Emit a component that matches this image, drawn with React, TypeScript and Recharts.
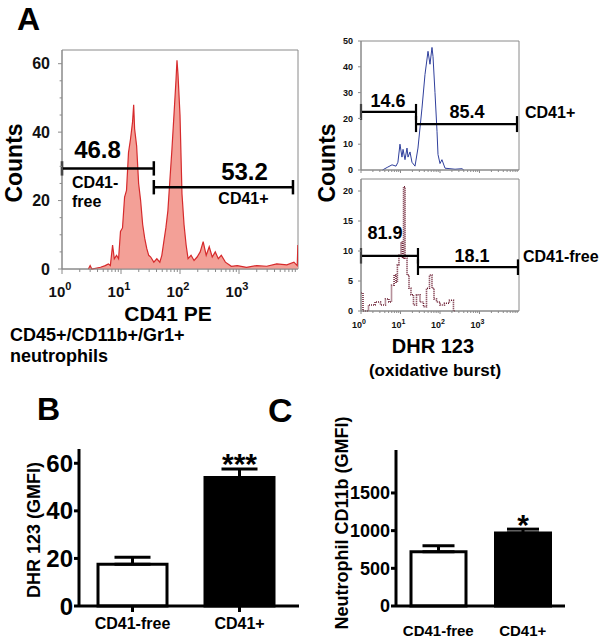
import React from "react";
import {
  Area,
  Bar,
  BarChart,
  Cell,
  ComposedChart,
  ErrorBar,
  LabelList,
  Line,
  LineChart,
  ReferenceArea,
  ReferenceDot,
  ReferenceLine,
  XAxis,
  YAxis,
} from "recharts";

const FONT = "'Liberation Sans', Arial, Helvetica, sans-serif";
const FRAME = "#8a8a8a";

// Panel A left: CD41 PE histogram of CD45+/CD11b+/Gr1+ neutrophils
const cd41Channel = [
  2.8, 3, 3.2, 4.5, 5.4, 6.1, 6.6, 7.2, 7.7, 8.4, 9.1, 9.8, 10.6, 11.5, 12.4,
  13.4, 14.5, 15.7, 16.4, 17, 18.4, 19.9, 21.5, 23.3, 25.2, 27.3, 29.5, 31.9,
  36, 40.5, 45.5, 49.2, 53.2, 57.6, 62.3, 67.4, 73, 79, 85.4, 88.9, 92.4, 100,
  108, 117, 127, 137, 154, 173, 195, 220, 247, 278, 313, 352, 396, 446, 501,
  588, 741, 935, 1340, 1990, 2950, 4370, 6470, 8530, 9700, 9950,
];
const cd41Counts = [
  0, 1, 0, 0.5, 1, 1.5, 1, 7, 3, 4, 3, 11, 12, 21, 23, 34, 38, 43, 48, 41, 36,
  25, 20, 13, 9, 6, 4, 3.5, 2, 3, 2, 4, 8, 12, 17, 26, 35, 45, 55, 61, 57, 45,
  22, 13, 7, 3, 4, 2.5, 3.5, 5, 8, 4, 6.5, 3.5, 5, 3, 4, 2, 0.8, 1, 0.5, 1, 0.8,
  1.5, 1.2, 2, 1, 7,
];

// Panel A right: DHR 123 histograms, CD41+ (top) and CD41-free (bottom)
const dhrPosChannel = [
  3.5, 4.6, 6.1, 7.7, 8.6, 9.7, 10.9, 11.6, 13, 14.6, 15.5, 17.4, 19.5, 23.3,
  27.7, 35, 41.7, 49.7, 55.8, 62.7, 66.5, 74.7, 84, 89, 100, 112, 134, 179, 240,
  360, 400,
];
const dhrPosCounts = [
  0, 1, 2, 1.5, 3, 10, 5, 8, 4, 8.5, 5, 7, 3, 1.5, 8.5, 24, 37, 46, 41, 47.5,
  44, 30, 15, 6, 2.5, 4, 0.7, 0.5, 0.3, 0.5, 0,
];
const dhrFreeChannel = [
  1, 1.26, 1.9, 2.7, 3.6, 4.8, 5.4, 6.5, 7.3, 8.1, 8.6, 9.7, 10.9, 11.6, 12.3,
  13.8, 15.5, 17.4, 19.5, 23.3, 27.7, 35, 41.7, 49.7, 59, 66.5, 74.7, 89, 112,
  150, 200, 240,
];
const dhrFreeCounts = [
  3, 0, 1, 1.5, 1, 2, 1.5, 4.3, 6, 4.8, 7.7, 9.3, 11.5, 8.8, 20.7, 8.8, 6, 3.8,
  2.7, 1, 2.7, 1.5, 0.7, 3.8, 6, 3.8, 2, 1.5, 1, 1.3, 1.8, 0,
];

const logTicks = [
  1, 2, 3, 4, 5, 6, 7, 8, 9, 10, 20, 30, 40, 50, 60, 70, 80, 90, 100, 200, 300,
  400, 500, 600, 700, 800, 900, 1000, 2000, 3000, 4000, 5000, 6000, 7000, 8000,
  9000,
];
const decades = [1, 10, 100, 1000];
const decadeExp = ["0", "1", "2", "3"];

// gates: [from, to, level]
const cd41Gates = [
  [1, 36, 29.4],
  [36, 8220, 23.9],
];
const dhrPosGates = [
  [1, 24.7, 22.5],
  [24.7, 8900, 17.8],
];
const dhrFreeGates = [
  [1, 27.7, 9.2],
  [27.7, 9400, 7.3],
];

// in-plot annotations: [channel, count, text, size, anchor]
const cd41Notes: [number, number, string, number, string][] = [
  [4, 32.4, "46.8", 24, "middle"],
  [1.48, 23.6, "CD41-", 16, "start"],
  [1.48, 18.1, "free", 16, "start"],
  [1240, 25.9, "53.2", 24, "middle"],
  [1190, 19, "CD41+", 16, "middle"],
];
const dhrPosNotes: [number, number, string, number, string][] = [
  [4.8, 24.4, "14.6", 18, "middle"],
  [480, 20.2, "85.4", 18, "middle"],
];
const dhrFreeNotes: [number, number, string, number, string][] = [
  [4.05, 12, "81.9", 18, "middle"],
  [645, 8.2, "18.1", 18, "middle"],
];

// Panels B and C
const groups = ["CD41-free", "CD41+"];
const dhrGmfi = [17.5, 54];
const dhrSem = [3, 3.6];
const dhrSig = ["", "***"];
const cd11bGmfi = [720, 970];
const cd11bSem = [80, 50];
const cd11bSig = ["", "*"];

const cd41Data = cd41Channel.map((ch, i) => ({ ch, n: cd41Counts[i] }));
const dhrPosData = dhrPosChannel.map((ch, i) => ({ ch, n: dhrPosCounts[i] }));
const dhrFreeData = dhrFreeChannel.map((ch, i) => ({ ch, n: dhrFreeCounts[i] }));
const dhrBars = groups.map((g, i) => ({
  group: g,
  v: dhrGmfi[i],
  err: [0, dhrSem[i]],
  sig: dhrSig[i],
}));
const cd11bBars = groups.map((g, i) => ({
  group: g,
  v: cd11bGmfi[i],
  err: [0, cd11bSem[i]],
  sig: cd11bSig[i],
}));

function LogXTick(props: any) {
  const { x, y, payload, fontSize, supSize, gap, showLabel, majorLen, minorLen } =
    props;
  const v = payload.value;
  const k = decades.indexOf(v);
  const major = k >= 0;
  return (
    <g>
      <line
        x1={x}
        x2={x}
        y1={y}
        y2={y + (major ? majorLen : minorLen)}
        stroke={FRAME}
      />
      {major && showLabel && (
        <text
          x={x - 2}
          y={y + gap}
          textAnchor="middle"
          fontSize={fontSize}
          fontWeight="bold"
          fontFamily={FONT}
          fill="#111"
        >
          10
          <tspan dy={-fontSize * 0.45} fontSize={supSize}>
            {decadeExp[k]}
          </tspan>
        </text>
      )}
    </g>
  );
}

function LinYTick(props: any) {
  const { x, y, payload, fontSize, gap, labels, len } = props;
  const v = payload.value;
  const lab = labels.includes(v);
  return (
    <g>
      <line x1={x - (lab ? len : len * 0.6)} x2={x} y1={y} y2={y} stroke={FRAME} />
      {lab && (
        <text
          x={x - gap}
          y={y}
          dy="0.36em"
          textAnchor="end"
          fontSize={fontSize}
          fontWeight="bold"
          fontFamily={FONT}
          fill="#111"
        >
          {v}
        </text>
      )}
    </g>
  );
}

function PlotText(props: any) {
  const { viewBox, text, size, anchor } = props;
  if (!viewBox) return null;
  const x = viewBox.x + (viewBox.width || 0) / 2;
  const y = viewBox.y + (viewBox.height || 0) / 2;
  return (
    <text
      x={x}
      y={y}
      textAnchor={anchor}
      fontSize={size}
      fontWeight="bold"
      fontFamily={FONT}
      fill="#000"
    >
      {text}
    </text>
  );
}

function gateLines(gates: number[][], cap: number, w: number, id: string) {
  const out: React.ReactNode[] = [];
  gates.forEach(([from, to, level], i) => {
    const seg = (a: any, b: any, k: string) => (
      <ReferenceLine
        key={`${id}-${i}-${k}`}
        segment={[a, b]}
        stroke="#000"
        strokeWidth={w}
        ifOverflow="visible"
      />
    );
    out.push(seg({ x: from, y: level }, { x: to, y: level }, "h"));
    out.push(seg({ x: from, y: level - cap }, { x: from, y: level + cap }, "l"));
    out.push(seg({ x: to, y: level - cap }, { x: to, y: level + cap }, "r"));
  });
  return out;
}

function notes(list: [number, number, string, number, string][], id: string) {
  return list.map(([x, y, text, size, anchor], i) => (
    <ReferenceDot
      key={`${id}-${i}`}
      x={x}
      y={y}
      r={0}
      fill="none"
      stroke="none"
      ifOverflow="visible"
      label={<PlotText text={text} size={size} anchor={anchor} />}
    />
  ));
}

const boldTxt = { fontWeight: "bold", fontFamily: FONT, fill: "#000" } as const;

export default function App() {
  return (
    <div
      style={{
        position: "absolute",
        left: 0,
        top: 0,
        width: 602,
        height: 642,
        background: "#fff",
        fontFamily: FONT,
      }}
    >
      {/* A left: CD41 PE */}
      <div style={{ position: "absolute", left: 0, top: 0 }}>
        <ComposedChart
          width={300}
          height={300}
          data={cd41Data}
          margin={{ top: 50, right: 2, bottom: 0, left: 0 }}
        >
          <XAxis
            dataKey="ch"
            type="number"
            scale="log"
            domain={[1, 10000]}
            allowDataOverflow
            ticks={logTicks}
            interval={0}
            height={31}
            tickSize={0}
            tickMargin={0}
            axisLine={{ stroke: FRAME }}
            tick={
              <LogXTick
                fontSize={15}
                supSize={11}
                gap={28}
                showLabel
                majorLen={5}
                minorLen={3}
              />
            }
          />
          <YAxis
            type="number"
            domain={[0, 64]}
            ticks={[0, 5, 10, 15, 20, 25, 30, 35, 40, 45, 50, 55, 60]}
            interval={0}
            width={62}
            tickSize={0}
            tickMargin={0}
            axisLine={{ stroke: FRAME }}
            tick={<LinYTick labels={[0, 20, 40, 60]} fontSize={16} gap={12} len={4} />}
          />
          <ReferenceArea
            x1={1}
            x2={10000}
            y1={0}
            y2={64}
            fill="none"
            stroke={FRAME}
            ifOverflow="visible"
          />
          <Area
            dataKey="n"
            type="linear"
            stroke="#d62a2c"
            strokeWidth={1.2}
            fill="#f3a097"
            fillOpacity={1}
            isAnimationActive={false}
          />
          {gateLines(cd41Gates, 2.1, 2.5, "g1")}
          {notes(cd41Notes, "n1")}
        </ComposedChart>
      </div>

      {/* A right top: DHR 123, CD41+ */}
      <div style={{ position: "absolute", left: 300, top: 0 }}>
        <LineChart
          width={302}
          height={180}
          data={dhrPosData}
          margin={{ top: 41, right: 83, bottom: 0, left: 0 }}
        >
          <XAxis
            dataKey="ch"
            type="number"
            scale="log"
            domain={[1, 10000]}
            allowDataOverflow
            ticks={logTicks}
            interval={0}
            height={10}
            tickSize={0}
            tickMargin={0}
            axisLine={{ stroke: FRAME }}
            tick={
              <LogXTick
                fontSize={9}
                supSize={7}
                gap={17}
                showLabel={false}
                majorLen={3}
                minorLen={2}
              />
            }
          />
          <YAxis
            type="number"
            domain={[0, 50]}
            ticks={[0, 10, 20, 30, 40, 50]}
            interval={0}
            width={61}
            tickSize={0}
            tickMargin={0}
            axisLine={{ stroke: FRAME }}
            tick={
              <LinYTick labels={[0, 10, 20, 30, 40, 50]} fontSize={9} gap={8} len={3} />
            }
          />
          <ReferenceArea
            x1={1}
            x2={10000}
            y1={0}
            y2={50}
            fill="none"
            stroke={FRAME}
            ifOverflow="visible"
          />
          <Line
            dataKey="n"
            type="linear"
            stroke="#2f3f9c"
            strokeWidth={1}
            dot={false}
            isAnimationActive={false}
          />
          {gateLines(dhrPosGates, 3.1, 2.2, "g2")}
          {notes(dhrPosNotes, "n2")}
        </LineChart>
      </div>

      {/* A right bottom: DHR 123, CD41-free */}
      <div style={{ position: "absolute", left: 300, top: 170 }}>
        <LineChart
          width={302}
          height={175}
          data={dhrFreeData}
          margin={{ top: 9, right: 83, bottom: 0, left: 0 }}
        >
          <XAxis
            dataKey="ch"
            type="number"
            scale="log"
            domain={[1, 10000]}
            allowDataOverflow
            ticks={logTicks}
            interval={0}
            height={34}
            tickSize={0}
            tickMargin={0}
            axisLine={{ stroke: FRAME }}
            tick={
              <LogXTick
                fontSize={9}
                supSize={7}
                gap={17}
                showLabel
                majorLen={3}
                minorLen={2}
              />
            }
          />
          <YAxis
            type="number"
            domain={[0, 22]}
            ticks={[0, 5, 10, 15, 20]}
            interval={0}
            width={61}
            tickSize={0}
            tickMargin={0}
            axisLine={{ stroke: FRAME }}
            tick={<LinYTick labels={[0, 5, 10, 15, 20]} fontSize={9} gap={8} len={3} />}
          />
          <ReferenceArea
            x1={1}
            x2={10000}
            y1={0}
            y2={22}
            fill="none"
            stroke={FRAME}
            ifOverflow="visible"
          />
          <Line
            dataKey="n"
            type="step"
            stroke="#6e2236"
            strokeWidth={1.6}
            strokeDasharray="1 1"
            dot={false}
            isAnimationActive={false}
          />
          {gateLines(dhrFreeGates, 1.3, 2.2, "g3")}
          {notes(dhrFreeNotes, "n3")}
        </LineChart>
      </div>

      {/* B: DHR 123 GMFI */}
      <div style={{ position: "absolute", left: 0, top: 380 }}>
        <BarChart
          width={300}
          height={262}
          data={dhrBars}
          margin={{ top: 69, right: 1, bottom: 0, left: 0 }}
        >
          <XAxis
            dataKey="group"
            height={36}
            padding={{ left: 0, right: 6 }}
            interval={0}
            axisLine={{ stroke: "#000", strokeWidth: 3 }}
            tickLine={{ stroke: "#000", strokeWidth: 3 }}
            tickSize={6}
            tickMargin={6}
            tick={{ ...boldTxt, fontSize: 16 }}
          />
          <YAxis
            domain={[0, 66]}
            ticks={[0, 20, 40, 60]}
            interval={0}
            width={79}
            axisLine={{ stroke: "#000", strokeWidth: 3 }}
            tickLine={{ stroke: "#000", strokeWidth: 3 }}
            tickSize={5}
            tickMargin={1}
            tick={{ ...boldTxt, fontSize: 24 }}
          />
          <Bar
            dataKey="v"
            barSize={69}
            stroke="#000"
            strokeWidth={3}
            isAnimationActive={false}
          >
            {dhrBars.map((d, i) => (
              <Cell key={d.group} fill={i === 0 ? "#fff" : "#000"} />
            ))}
            <ErrorBar
              dataKey="err"
              direction="y"
              width={18}
              stroke="#000"
              strokeWidth={3}
            />
            <LabelList
              dataKey="sig"
              position="top"
              offset={4}
              fontSize={30}
              fontWeight="bold"
              fontFamily={FONT}
              fill="#000"
            />
          </Bar>
        </BarChart>
      </div>

      {/* C: neutrophil CD11b GMFI */}
      <div style={{ position: "absolute", left: 300, top: 380 }}>
        <BarChart
          width={302}
          height={262}
          data={cd11bBars}
          margin={{ top: 70, right: 37, bottom: 0, left: 0 }}
        >
          <XAxis
            dataKey="group"
            height={36}
            interval={0}
            axisLine={{ stroke: "#000", strokeWidth: 3 }}
            tickLine={false}
            tickSize={0}
            tickMargin={19}
            tick={{ ...boldTxt, fontSize: 15 }}
          />
          <YAxis
            domain={[0, 2070]}
            ticks={[0, 500, 1000, 1500]}
            interval={0}
            width={96}
            axisLine={{ stroke: "#000", strokeWidth: 3 }}
            tickLine={{ stroke: "#000", strokeWidth: 3 }}
            tickSize={5}
            tickMargin={1}
            tick={{ ...boldTxt, fontSize: 18 }}
          />
          <Bar
            dataKey="v"
            barSize={55}
            stroke="#000"
            strokeWidth={3}
            isAnimationActive={false}
          >
            {cd11bBars.map((d, i) => (
              <Cell key={d.group} fill={i === 0 ? "#fff" : "#000"} />
            ))}
            <ErrorBar
              dataKey="err"
              direction="y"
              width={16}
              stroke="#000"
              strokeWidth={3}
            />
            <LabelList
              dataKey="sig"
              position="top"
              offset={-2}
              fontSize={30}
              fontWeight="bold"
              fontFamily={FONT}
              fill="#000"
            />
          </Bar>
        </BarChart>
      </div>

      {/* titles and panel letters */}
      <svg
        width={602}
        height={642}
        style={{ position: "absolute", left: 0, top: 0, pointerEvents: "none" }}
        fontFamily={FONT}
        fontWeight="bold"
        fill="#000"
      >
        <text x={17} y={30} fontSize={32}>A</text>
        <text transform="translate(22,163) rotate(-90)" textAnchor="middle" fontSize={23}>
          Counts
        </text>
        <text x={168} y={321} textAnchor="middle" fontSize={21}>CD41 PE</text>
        <text x={10} y={341} fontSize={18}>CD45+/CD11b+/Gr1+</text>
        <text x={10} y={362} fontSize={18}>neutrophils</text>

        <text transform="translate(335,163) rotate(-90)" textAnchor="middle" fontSize={23}>
          Counts
        </text>
        <text x={525} y={118} fontSize={16}>CD41+</text>
        <text x={523} y={262} fontSize={16}>CD41-free</text>
        <text x={433} y={353} textAnchor="middle" fontSize={20}>DHR 123</text>
        <text x={435} y={376} textAnchor="middle" fontSize={17}>(oxidative burst)</text>

        <text x={37} y={420} fontSize={32}>B</text>
        <text x={268} y={422} fontSize={34}>C</text>
        <text transform="translate(40,530) rotate(-90)" textAnchor="middle" fontSize={18}>
          DHR 123 (GMFI)
        </text>
        <text transform="translate(348,523) rotate(-90)" textAnchor="middle" fontSize={18}>
          Neutrophil CD11b (GMFI)
        </text>
      </svg>
    </div>
  );
}
